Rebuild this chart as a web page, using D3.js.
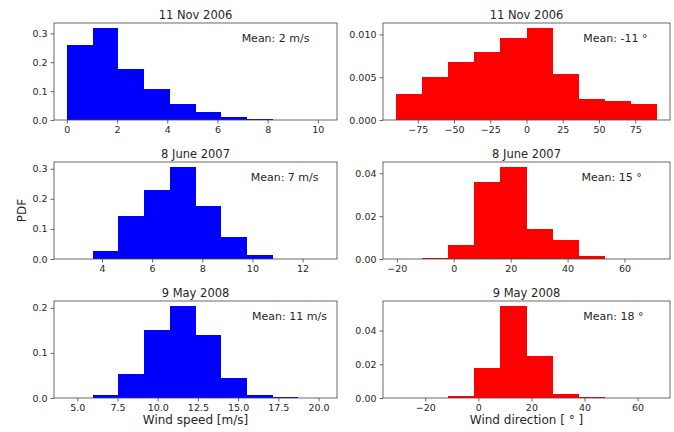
<!DOCTYPE html>
<html>
<head>
  <meta charset="utf-8">
  <style>
    body { margin: 0; background: #fff; }
    text { font-family: "DejaVu Sans", sans-serif; fill: #262626; }
  </style>
</head>

<body>
  <svg id="svg"></svg>

<script src="https://d3js.org/d3.v7.min.js"></script>
<script>
  // DATA
  var titles = ["11 Nov 2006", "8 June 2007", "9 May 2008"];
  var speedMeans = [2, 7, 11];
  var dirMeans = [-11, 15, 18];

  // wind speed histograms: 10 bins each
  var speedBinStart = [0, 2.6, 4.35];
  var speedBinWidth = [1.025, 1.026, 1.6];
  var speedPdf = [
    [0.259, 0.32, 0.177, 0.108, 0.056, 0.028, 0.012, 0.003, 0.0006, 0.0002],
    [0.0003, 0.028, 0.142, 0.229, 0.307, 0.177, 0.074, 0.012, 0.001, 0.0003],
    [0.0002, 0.0067, 0.053, 0.152, 0.205, 0.14, 0.0436, 0.0073, 0.0013, 0.0002]
  ];

  // wind direction histograms: 10 bins each
  var dirBinStart = [-90, -20.3, -31.0];
  var dirBinWidth = [18, 9.17, 9.83];
  var dirPdf = [
    [0.003, 0.005, 0.0068, 0.008, 0.0096, 0.0108, 0.0054, 0.0025, 0.0022, 0.0019],
    [0.0001, 0.0005, 0.0067, 0.036, 0.0431, 0.0141, 0.0089, 0.0012, 0.0002, 0.0001],
    [0.0001, 0.0001, 0.0012, 0.0178, 0.0548, 0.0251, 0.0021, 0.0004, 0.0001, 0.0001]
  ];

  // tick labels
  var speedXTicks = [[0, 2, 4, 6, 8, 10], [4, 6, 8, 10, 12], [5, 7.5, 10, 12.5, 15, 17.5, 20]];
  var speedYTicks = [[0, 0.1, 0.2, 0.3], [0, 0.1, 0.2, 0.3], [0, 0.1, 0.2]];
  var dirXTicks = [[-75, -50, -25, 0, 25, 50, 75], [-20, 0, 20, 40, 60], [-20, 0, 20, 40, 60]];
  var dirYTicks = [[0, 0.005, 0.01], [0, 0.02, 0.04], [0, 0.02, 0.04]];
  var speedXFmt = ["d", "d", ".1f"];
  var dirYFmt = [".3f", ".2f", ".2f"];

  // LAYOUT
  var width = 674, height = 432;
  var rowTop = [23, 162, 301], rowH = 97;
  var colLeft = [54, 383], colW = [283, 287];
  var speedNoteX = [0.663, 0.695, 0.7];
  var dirNoteX = [0.698, 0.692, 0.698];

  var svg = d3.select("#svg").attr("width", width).attr("height", height);
  svg.append("rect").attr("width", width).attr("height", height).attr("fill", "#fff");

  function panel(left, top, w, start, binW, pdf, xTicks, xFmt, yTicks, yFmt, color, title, note, noteX) {
    var g = svg.append("g").attr("transform", "translate(" + left + "," + top + ")");
    var n = pdf.length;
    var x = d3.scaleLinear()
      .domain([start - 0.5 * binW, start + (n + 0.5) * binW])
      .range([0, w]);
    var y = d3.scaleLinear()
      .domain([0, d3.max(pdf) * 1.05])
      .range([rowH, 0]);

    //BARS
    g.selectAll("rect.bar")
      .data(pdf)
      .enter()
      .append("rect")
      .attr("class", "bar")
      .attr("x", function (d, i) { return x(start + i * binW); })
      .attr("width", x(start + binW) - x(start))
      .attr("y", function (d) { return y(d); })
      .attr("height", function (d) { return rowH - y(d); })
      .attr("fill", color)
      .attr("shape-rendering", "crispEdges");

    //AXES
    var xAxis = g.append("g")
      .attr("transform", "translate(0," + rowH + ")")
      .call(d3.axisBottom(x).tickValues(xTicks).tickFormat(d3.format(xFmt)).tickSize(3.5).tickPadding(2.5));
    var yAxis = g.append("g")
      .call(d3.axisLeft(y).tickValues(yTicks).tickFormat(d3.format(yFmt)).tickSize(3.5).tickPadding(3));
    [xAxis, yAxis].forEach(function (a) {
      a.select(".domain").remove();
      a.selectAll(".tick line").attr("stroke", "#444").attr("stroke-width", 0.8);
      a.selectAll(".tick text").attr("font-size", "9.5px").attr("fill", "#262626")
        .style("font-family", "'DejaVu Sans', sans-serif");
    });

    //FRAME
    g.append("rect")
      .attr("width", w).attr("height", rowH)
      .attr("fill", "none").attr("stroke", "#444").attr("stroke-width", 0.8);

    g.append("text")
      .attr("x", w / 2).attr("y", -4.5)
      .attr("text-anchor", "middle").attr("font-size", "11.5px")
      .text(title);

    g.append("text")
      .attr("x", w * noteX).attr("y", 19)
      .attr("font-size", "11px")
      .text(note);
    return g;
  }

  for (var r = 0; r < 3; r++) {
    panel(colLeft[0], rowTop[r], colW[0], speedBinStart[r], speedBinWidth[r], speedPdf[r],
      speedXTicks[r], speedXFmt[r], speedYTicks[r], ".1f", "#0000ff", titles[r],
      "Mean: " + speedMeans[r] + " m/s", speedNoteX[r]);
    panel(colLeft[1], rowTop[r], colW[1], dirBinStart[r], dirBinWidth[r], dirPdf[r],
      dirXTicks[r], "d", dirYTicks[r], dirYFmt[r], "#ff0000", titles[r],
      "Mean: " + dirMeans[r] + " \u00b0", dirNoteX[r]);
  }

  //LABELS
  svg.append("text")
    .attr("transform", "translate(25.5," + (rowTop[1] + rowH / 2) + ") rotate(-90)")
    .attr("text-anchor", "middle").attr("font-size", "12px")
    .text("PDF");
  svg.append("text")
    .attr("x", colLeft[0] + colW[0] / 2).attr("y", 424)
    .attr("text-anchor", "middle").attr("font-size", "12px")
    .text("Wind speed [m/s]");
  svg.append("text")
    .attr("x", colLeft[1] + colW[1] / 2).attr("y", 424)
    .attr("text-anchor", "middle").attr("font-size", "12px")
    .text("Wind direction [ \u00b0 ]");
</script>
</body>
</html>
